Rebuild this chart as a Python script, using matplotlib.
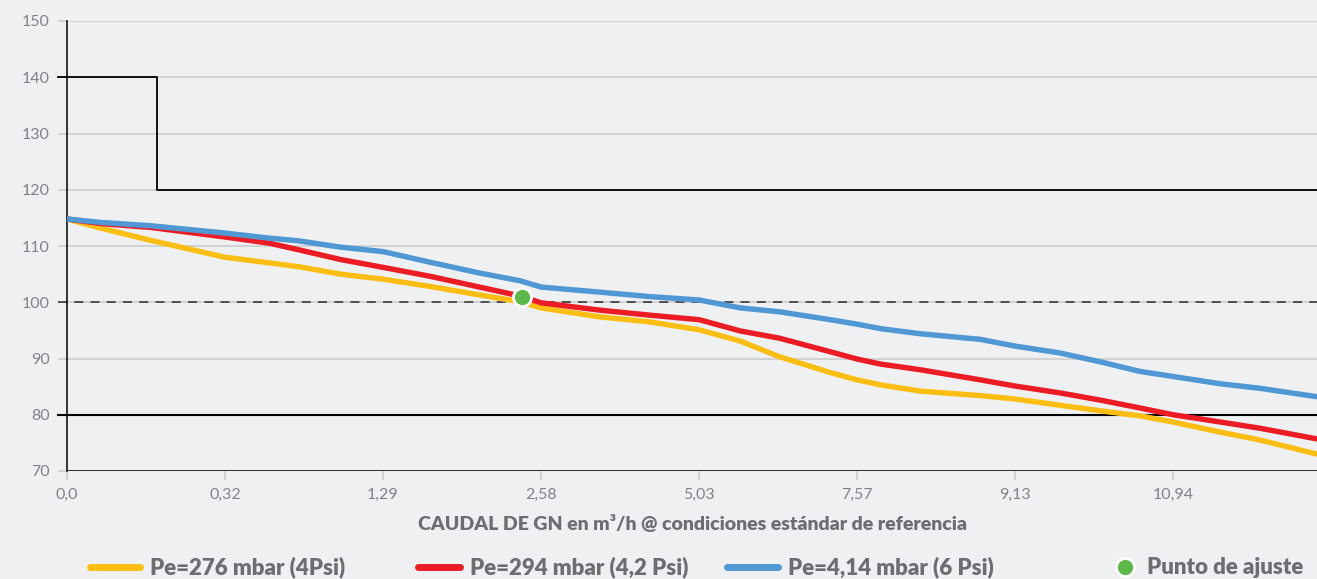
import matplotlib
matplotlib.use("Agg")
from matplotlib import pyplot as plt
from matplotlib.lines import Line2D

plt.rcParams['font.family'] = ['Lato', 'DejaVu Sans']

# tick positions are evenly spaced categories
tick_labels = ['0,0', '0,32', '1,29', '2,58', '5,03', '7,57', '9,13', '10,94']
x_max = 7.91

# sample positions (in tick units) and curve values
x_pts = [0, 0.21, 0.53, 1.0, 1.28, 1.47, 1.73, 2.0, 2.30, 2.61, 2.87, 3.0,
         3.37, 3.69, 4.0, 4.26, 4.51, 4.83, 5.0, 5.15, 5.40, 5.78, 6.0,
         6.28, 6.54, 6.79, 7.0, 7.30, 7.55, 7.91]
pe_276 = [114.8, 113.2, 111.0, 108.0, 107.0, 106.3, 105.0, 104.1, 102.8, 101.3,
          100.1, 99.0, 97.4, 96.5, 95.1, 93.1, 90.3, 87.5, 86.2, 85.3,
          84.2, 83.4, 82.8, 81.7, 80.7, 79.8, 78.7, 76.9, 75.5, 73.0]
pe_294 = [114.8, 114.0, 113.3, 111.6, 110.5, 109.3, 107.6, 106.2, 104.6, 102.7,
          101.1, 99.9, 98.6, 97.7, 96.9, 94.9, 93.6, 91.2, 89.9, 89.0,
          88.0, 86.2, 85.1, 83.9, 82.6, 81.2, 80.0, 78.7, 77.6, 75.7]
pe_414 = [114.8, 114.2, 113.6, 112.3, 111.4, 110.9, 109.8, 109.0, 107.1, 105.2,
          103.8, 102.7, 101.8, 101.0, 100.4, 99.0, 98.3, 96.9, 96.1, 95.3,
          94.4, 93.4, 92.2, 91.0, 89.4, 87.7, 86.8, 85.5, 84.7, 83.2]

# limits / reference levels
step_x = [-0.057, 0.57, 0.57, x_max]
step_y = [140, 140, 120, 120]
lower_limit = 80
set_point_level = 100
set_point = (2.88, 101.0)

labels = ['Pe=276 mbar (4Psi)', 'Pe=294 mbar (4,2 Psi)',
          'Pe=4,14 mbar (6 Psi)', 'Punto de ajuste']

BG = '#eff0f2'
YELLOW = '#fdbe14'
RED = '#ec1c24'
BLUE = '#4f98d3'
GREEN = '#5cb848'
TXT = '#6d6e71'

fig = plt.figure(figsize=(13.17, 5.79), dpi=100, facecolor=BG)
ax = fig.add_axes([67 / 1317, 1 - 471 / 579, 1 - 67 / 1317, 450 / 579])
ax.set_facecolor(BG)

ax.set_xlim(0, x_max)
ax.set_ylim(70, 150)
ax.set_yticks(range(70, 151, 10))
ax.set_xticks(range(len(tick_labels)))
ax.set_xticklabels(tick_labels)
ax.grid(axis='y', color='#c9cacc', lw=1.1, zorder=0)
ax.set_axisbelow(True)

for s in ['top', 'right', 'bottom']:
    ax.spines[s].set_visible(False)
ax.spines['left'].set_color('black')
ax.spines['left'].set_linewidth(1.1)
ax.spines['left'].set_bounds(70, 150)

ax.tick_params(axis='y', length=6.5, width=1.1, color='#c9cacc', pad=6,
               labelsize=11.5, labelcolor='#808285')
ax.tick_params(axis='x', length=6.5, width=1.1, color='#c9cacc', pad=6,
               labelsize=11.5, labelcolor='#808285')
ax.get_xticklines()[0].set_color('black')

# bottom axis line at 70
ax.axhline(70, color='black', lw=1.1, zorder=1)

ax.plot(step_x, step_y, color='black', lw=1.3, clip_on=False, zorder=2)
ax.plot([-0.057, x_max], [lower_limit] * 2, color='black', lw=1.5,
        clip_on=False, zorder=2)
ax.plot([-0.057, x_max], [set_point_level] * 2, color='#444444', lw=1.3,
        dashes=(5, 4), clip_on=False, zorder=2)

ax.plot(x_pts, pe_276, color=YELLOW, lw=3.9, solid_capstyle='round', zorder=3)
ax.plot(x_pts, pe_294, color=RED, lw=3.9, solid_capstyle='round', zorder=4)
ax.plot(x_pts, pe_414, color=BLUE, lw=3.9, solid_capstyle='round', zorder=5)
ax.plot([set_point[0]], [set_point[1]], 'o', ms=13, color=GREEN, mec='white',
        mew=2, zorder=6)

ax.set_xlabel('CAUDAL DE GN en m³/h @ condiciones estándar de referencia',
              fontsize=14, fontweight='heavy', color=TXT, labelpad=9)

# legend placed by hand to match the spacing of the reference
leg_y = 1 - 567 / 579
entries = [(90, 140, YELLOW), (418, 460, RED), (727, 778, BLUE), (1125, None, GREEN)]
for (x0, x1, col), lab in zip(entries, labels):
    if x1 is None:
        fig.add_artist(Line2D([x0 / 1317], [leg_y], marker='o', ms=13,
                              color=col, mec='white', mew=2,
                              transform=fig.transFigure))
        tx = x0 + 22
    else:
        fig.add_artist(Line2D([x0 / 1317, x1 / 1317], [leg_y, leg_y], lw=5,
                              color=col, solid_capstyle='round',
                              transform=fig.transFigure))
        tx = x1 + 10
    fig.text(tx / 1317, leg_y, lab, fontsize=16, fontweight='heavy',
             color=TXT, va='center', ha='left')

fig.savefig('out.png', dpi=100, facecolor=BG)
